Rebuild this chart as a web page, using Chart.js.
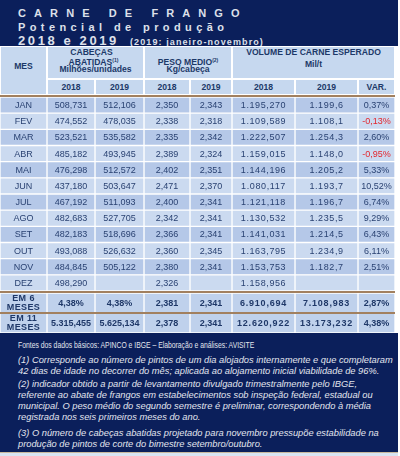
<!DOCTYPE html>
<html lang="pt">
<head>
<meta charset="utf-8">
<title>Carne de frango - potencial de produção</title>
<script src="https://cdn.jsdelivr.net/npm/chart.js@4.4.1/dist/chart.umd.min.js"></script>
<style>
  body { margin: 0; width: 400px; height: 456px; background: #fff; position: relative; overflow: hidden;
         font-family: "Liberation Sans", Arial, sans-serif; }
  .abs { position: absolute; }
  .band { background: #0b1f5b; left: 0; width: 398px; }
  .ttl { color: #dde0ea; font-weight: bold; line-height: 1; white-space: nowrap; }
  .hcell { position: absolute; box-sizing: border-box; border: 1px solid #fff; background: #c6d8ef; }
  .htxt { position: absolute; text-align: center; line-height: 10px; height: 10px; color: #1c3868;
          font-weight: bold; font-size: 8.6px; white-space: nowrap; }
  .htxt sup { font-size: 5px; vertical-align: 3px; }
  .brown { position: absolute; left: 0; width: 395px; height: 2px; background: #a2805f; }
  .foot { position: absolute; left: 18px; color: #e2e5ee; font-size: 9.3px; line-height: 1; white-space: nowrap;
          transform-origin: left top; }
  .foot.it { font-style: italic; }
</style>
</head>
<body>

<!-- title band -->
<div class="abs band" style="top:0;height:46px"></div>
<div class="abs ttl" style="left:18px;top:8px;font-size:11px;letter-spacing:8.1px">CARNE DE FRANGO</div>
<div class="abs ttl" style="left:18px;top:22px;font-size:11px;letter-spacing:4.4px">Potencial de produção</div>
<div class="abs ttl" style="left:18px;top:34px;font-size:13px;letter-spacing:2.6px">2018 e 2019</div>
<div class="abs ttl" style="left:130px;top:37.5px;font-size:9px;letter-spacing:1.1px">(2019: janeiro-novembro)</div>

<div id="head"></div>

<div class="brown" style="top:95px"></div>
<div class="abs" style="left:0;top:97px;width:395px;height:194px"><canvas id="months"></canvas></div>
<div class="brown" style="top:291px"></div>
<div class="abs" style="left:0;top:293px;width:395px;height:40px"><canvas id="totals"></canvas></div>
<div class="brown" style="top:312px;height:1.5px"></div>

<!-- footer -->
<div class="abs band" style="top:333px;height:119px"></div>
<div class="abs" style="left:0;top:452px;width:398px;height:1px;background:#c9b79c"></div>
<div class="abs" style="left:0;top:453px;width:398px;height:3px;background:#d8e4f2"></div>
<div class="foot" id="fonte" style="top:340.5px">Fontes dos dados básicos: APINCO e IBGE – Elaboração e análises: AVISITE</div>
<div class="foot it" style="top:356.4px">(1) Corresponde ao número de pintos de um dia alojados internamente e que completaram</div>
<div class="foot it" style="top:367.4px">42 dias de idade no decorrer do mês; aplicada ao alojamento inicial viabilidade de 96%.</div>
<div class="foot it" style="top:380.4px">(2) indicador obtido a partir de levantamento divulgado trimestralmente pelo IBGE,</div>
<div class="foot it" style="top:391.4px">referente ao abate de frangos em estabelecimentos sob inspeção federal, estadual ou</div>
<div class="foot it" style="top:402.4px">municipal. O peso médio do segundo semestre é preliminar, correspondendo à média</div>
<div class="foot it" style="top:413.4px">registrada nos seis primeiros meses do ano.</div>
<div class="foot it" style="top:429.4px">(3) O número de cabeças abatidas projetado para novembro pressupõe estabilidade na</div>
<div class="foot it" style="top:440.4px">produção de pintos de corte do bimestre setembro/outubro.</div>

<script>
// Data
const months = ['JAN', 'FEV', 'MAR', 'ABR', 'MAI', 'JUN', 'JUL', 'AGO', 'SET', 'OUT', 'NOV', 'DEZ'];
const cabecas2018 = [508.731, 474.552, 523.521, 485.182, 476.298, 437.180, 467.192, 482.683, 482.183, 493.088, 484.845, 498.290];
const cabecas2019 = [512.106, 478.035, 535.582, 493.945, 512.572, 503.647, 511.093, 527.705, 518.696, 526.632, 505.122, null];
const peso2018 = [2.350, 2.338, 2.335, 2.389, 2.402, 2.471, 2.400, 2.342, 2.366, 2.360, 2.380, 2.326];
const peso2019 = [2.343, 2.318, 2.342, 2.324, 2.351, 2.370, 2.341, 2.341, 2.341, 2.345, 2.341, null];
const volume2018 = [1195.270, 1109.589, 1222.507, 1159.015, 1144.196, 1080.117, 1121.118, 1130.532, 1141.031, 1163.795, 1153.753, 1158.956];
const volume2019 = [1199.6, 1108.1, 1254.3, 1148.0, 1205.2, 1193.7, 1196.7, 1235.5, 1214.5, 1234.9, 1182.7, null];
const variacao = [0.37, -0.13, 2.60, -0.95, 5.33, 10.52, 6.74, 9.29, 6.43, 6.11, 2.51, null];

const totalLabels = [['EM 6', 'MESES'], ['EM 11', 'MESES']];
const em6Meses = ['4,38%', '4,38%', '2,381', '2,341', '6.910,694', '7.108,983', '2,87%'];
const em11Meses = ['5.315,455', '5.625,134', '2,378', '2,341', '12.620,922', '13.173,232', '4,38%'];

const yearLabels = ['2018', '2019', '2018', '2019', '2018', '2019', 'VAR.'];

// Layout
const colWidths = [47, 48, 49, 46, 42, 63, 63, 37];
const tableWidth = colWidths.reduce((a, b) => a + b, 0);
const colLeft = colWidths.map((w, i) => colWidths.slice(0, i).reduce((a, b) => a + b, 0));

const DARK = '#b5c8e8', LIGHT = '#cbdaf0', TOTAL = '#bfd1ec';
const TEXT = '#2a4272', RED = '#e3262d';

// number like 1.195,270
function fmt(v, d) {
    if (v === null) return '';
    const parts = Math.abs(v).toFixed(d).split('.');
    const intPart = parts[0].replace(/\B(?=(\d{3})+(?!\d))/g, '.');
    return (v < 0 ? '-' : '') + intPart + (d ? ',' + parts[1] : '');
}

// Header cells
function hcell(c0, c1, top, h) {
    const d = document.createElement('div');
    d.className = 'hcell';
    d.style.left = colLeft[c0] + 'px';
    d.style.width = (colLeft[c1] + colWidths[c1] - colLeft[c0]) + 'px';
    d.style.top = top + 'px';
    d.style.height = h + 'px';
    document.getElementById('head').appendChild(d);
}
function htext(html, cx, cy, extra) {
    const d = document.createElement('div');
    d.className = 'htxt';
    d.innerHTML = html;
    d.style.left = (cx - 60) + 'px';
    d.style.width = '120px';
    d.style.top = (cy - 5) + 'px';
    if (extra) d.style.cssText += extra;
    document.getElementById('head').appendChild(d);
}
function colCenter(c0, c1) {
    return (colLeft[c0] + colLeft[c1] + colWidths[c1]) / 2;
}

hcell(0, 0, 46, 49);
hcell(1, 2, 46, 33);
hcell(3, 4, 46, 33);
hcell(5, 7, 46, 33);
for (let c = 1; c < 8; c++) hcell(c, c, 79, 16);

htext('MES', colCenter(0, 0), 66);
htext('CABEÇAS', colCenter(1, 2) - 4, 52);
htext('ABATIDAS<sup>(1)</sup>', colCenter(1, 2) - 2, 60);
htext('Milhões/unidades', colCenter(1, 2), 69);
htext('PESO MEDIO<sup>(2)</sup>', colCenter(3, 4), 59.5);
htext('Kg/cabeça', colCenter(3, 4), 68.5);
htext('VOLUME DE CARNE ESPERADO', colCenter(5, 7), 52, 'width:200px;left:' + (colCenter(5, 7) - 100) + 'px');
htext('Mil/t', colCenter(5, 7), 63.5);
yearLabels.forEach((t, i) => htext(t, colCenter(i + 1, i + 1), 86.5));

// squeeze the sources line to its width in the picture
const fonte = document.getElementById('fonte');
fonte.style.transform = 'scaleX(' + (236 / fonte.scrollWidth) + ')';

// Table body, drawn as stacked horizontal bars (one dataset per column)
function cellPlugin(textFn, styleFn) {
    return {
        id: 'cellText',
        afterDatasetsDraw(chart) {
            const ctx = chart.ctx;
            ctx.save();
            ctx.textAlign = 'center';
            ctx.textBaseline = 'middle';
            chart.data.datasets.forEach((ds, c) => {
                chart.getDatasetMeta(c).data.forEach((bar, r) => {
                    const t = textFn(c, r);
                    if (!t) return;
                    const st = styleFn(c, r);
                    ctx.font = st.font;
                    ctx.fillStyle = st.color;
                    ctx.letterSpacing = st.spacing || '0px';
                    const cx = (bar.x + bar.base) / 2;
                    const lines = Array.isArray(t) ? t : [t];
                    lines.forEach((ln, k) => {
                        ctx.fillText(ln, cx, bar.y + 0.5 + (k - (lines.length - 1) / 2) * 9);
                    });
                });
            });
            ctx.restore();
        }
    };
}

function tableChart(canvasId, rows, colorFn, plugin) {
    return new Chart(document.getElementById(canvasId), {
        type: 'bar',
        data: {
            labels: rows,
            datasets: colWidths.map(w => ({
                data: rows.map(() => w),
                backgroundColor: rows.map((r, i) => colorFn(i)),
                borderColor: '#ffffff',
                borderWidth: 1,
                borderSkipped: false,
                barPercentage: 1,
                categoryPercentage: 1
            }))
        },
        options: {
            indexAxis: 'y',
            responsive: true,
            maintainAspectRatio: false,
            devicePixelRatio: 1,
            animation: false,
            events: [],
            layout: { padding: 0 },
            scales: {
                x: { type: 'linear', stacked: true, min: 0, max: tableWidth, display: false },
                y: { type: 'category', stacked: true, display: false }
            },
            plugins: { legend: { display: false }, tooltip: { enabled: false } }
        },
        plugins: [plugin]
    });
}

const monthCols = [
    r => months[r],
    r => fmt(cabecas2018[r], 3),
    r => fmt(cabecas2019[r], 3),
    r => fmt(peso2018[r], 3),
    r => fmt(peso2019[r], 3),
    r => fmt(volume2018[r], 3),
    r => fmt(volume2019[r], 1),
    r => variacao[r] === null ? '' : fmt(variacao[r], 2) + '%'
];

tableChart('months', months, i => (i % 2 === 0 ? DARK : LIGHT), cellPlugin(
    (c, r) => monthCols[c](r),
    (c, r) => ({
        font: '9px "Liberation Sans", Arial, sans-serif',
        color: c === 7 && variacao[r] < 0 ? RED : TEXT,
        spacing: c === 5 || c === 6 ? '0.6px' : '0px'
    })
));

const totalRows = [em6Meses, em11Meses];
tableChart('totals', totalLabels.map(l => l.join(' ')), () => TOTAL, cellPlugin(
    (c, r) => (c === 0 ? totalLabels[r] : totalRows[r][c - 1]),
    c => ({
        font: 'bold 9px "Liberation Sans", Arial, sans-serif',
        color: '#1f3868',
        spacing: c === 5 || c === 6 ? '0.8px' : (c === 0 ? '0.4px' : '0px')
    })
));
</script>
</body>
</html>
